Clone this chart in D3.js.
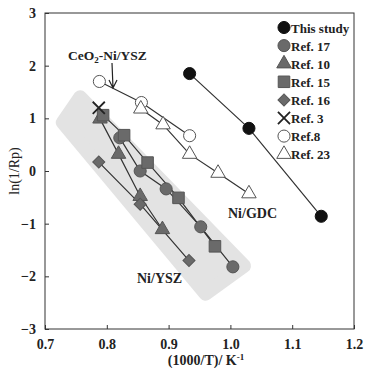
<!DOCTYPE html>
<html>
<head>
<meta charset="utf-8">
<script src="https://cdn.jsdelivr.net/npm/d3@7"></script>
<style>
  body { margin: 0; background: #fff; }
  text { font-family: "Liberation Serif", "DejaVu Serif", serif; }
</style>
</head>
<body>
<div id="wrapper"></div>
<script>
// data: [1000/T, ln(1/Rp)]
const thisStudy = [[0.934, 1.85], [1.030, 0.81], [1.147, -0.86]]
const ref17 = [[0.821, 0.63], [0.854, 0.00], [0.896, -0.34], [0.952, -1.06], [1.004, -1.82]]
const ref10 = [[0.789, 0.99], [0.819, 0.32], [0.854, -0.48], [0.890, -1.11]]
const ref15 = [[0.794, 1.06], [0.828, 0.68], [0.866, 0.16], [0.916, -0.51], [0.975, -1.43]]
const ref16 = [[0.787, 0.17], [0.854, -0.63], [0.933, -1.70]]
const ref3 = [[0.787, 1.20]]
const ref8 = [[0.788, 1.70], [0.856, 1.30], [0.934, 0.67]]
const ref23 = [[0.855, 1.18], [0.891, 0.88], [0.934, 0.32], [0.980, -0.04], [1.030, -0.43]]

// outline of the grey Ni/YSZ band
const bandOutline = [[0.757, 1.40], [0.729, 0.92], [0.960, -2.33], [1.022, -1.80]]

const xTicks = [0.7, 0.8, 0.9, 1.0, 1.1, 1.2]
const yTicks = [-3, -2, -1, 0, 1, 2, 3]

const series = [
  { name: "This study", data: thisStudy, symbol: "circle", fill: "#111", stroke: "#111" },
  { name: "Ref. 17", data: ref17, symbol: "circle", fill: "#6a6a6a", stroke: "#555" },
  { name: "Ref. 10", data: ref10, symbol: "triangle", fill: "#6a6a6a", stroke: "#555" },
  { name: "Ref. 15", data: ref15, symbol: "square", fill: "#6a6a6a", stroke: "#555" },
  { name: "Ref. 16", data: ref16, symbol: "diamond", fill: "#6a6a6a", stroke: "#555" },
  { name: "Ref. 3", data: ref3, symbol: "x", fill: "none", stroke: "#222" },
  { name: "Ref.8", data: ref8, symbol: "circle", fill: "#fff", stroke: "#555" },
  { name: "Ref. 23", data: ref23, symbol: "triangle", fill: "#fff", stroke: "#555" }
]

async function drawChart() {
  let dimensions = {
    width: 365,
    height: 368,
    margin: { top: 13, right: 11, bottom: 39, left: 45 }
  }
  dimensions.boundedWidth = dimensions.width - dimensions.margin.left - dimensions.margin.right
  dimensions.boundedHeight = dimensions.height - dimensions.margin.top - dimensions.margin.bottom

  const wrapper = d3.select("#wrapper")
    .append("svg")
      .attr("width", dimensions.width)
      .attr("height", dimensions.height)

  const bounds = wrapper.append("g")
    .attr("transform", `translate(${dimensions.margin.left},${dimensions.margin.top})`)

  const xScale = d3.scaleLinear()
    .domain([0.7, 1.2])
    .range([0, dimensions.boundedWidth])

  const yScale = d3.scaleLinear()
    .domain([-3, 3])
    .range([dimensions.boundedHeight, 0])

  // grey band
  bounds.append("path")
    .attr("d", d3.line().x(d => xScale(d[0])).y(d => yScale(d[1])).curve(d3.curveLinearClosed)(bandOutline))
    .attr("fill", "#e3e3e3")
    .attr("stroke", "#e3e3e3")
    .attr("stroke-width", 14)
    .attr("stroke-linejoin", "round")

  // frame
  bounds.append("rect")
    .attr("width", dimensions.boundedWidth)
    .attr("height", dimensions.boundedHeight)
    .attr("fill", "none")
    .attr("stroke", "#333")
    .attr("stroke-width", 1)

  // axes
  const xAxis = bounds.append("g")
    .attr("transform", `translate(0,${dimensions.boundedHeight})`)
    .call(d3.axisBottom(xScale).tickValues(xTicks).tickFormat(d3.format(".1f")).tickSizeInner(-4).tickSizeOuter(0).tickPadding(10))
  xAxis.select(".domain").remove()
  xAxis.selectAll("line").attr("stroke", "#333")
  xAxis.selectAll("text")
    .attr("font-size", 14)
    .attr("font-weight", "bold")
    .attr("fill", "#222")
    .attr("font-family", "Liberation Serif, serif")

  const yAxis = bounds.append("g")
    .call(d3.axisLeft(yScale).tickValues(yTicks).tickFormat(d3.format("d")).tickSizeInner(-4).tickSizeOuter(0).tickPadding(9))
  yAxis.select(".domain").remove()
  yAxis.selectAll("line").attr("stroke", "#333")
  yAxis.selectAll("text")
    .attr("font-size", 14)
    .attr("font-weight", "bold")
    .attr("fill", "#222")
    .attr("font-family", "Liberation Serif, serif")

  // axis labels
  const xLabel = wrapper.append("text")
    .attr("x", 206)
    .attr("y", 365)
    .attr("text-anchor", "middle")
    .attr("font-size", 14)
    .attr("font-weight", "bold")
    .attr("fill", "#222")
  xLabel.append("tspan").text("(1000/T)/ K")
  xLabel.append("tspan").attr("font-size", 9).attr("dy", -5).text("-1")

  wrapper.append("text")
    .attr("transform", `translate(19,171) rotate(-90)`)
    .attr("text-anchor", "middle")
    .attr("font-size", 14)
    .attr("fill", "#222")
    .text("ln(1/Rp)")

  // symbol drawing
  function drawSymbol(sel, s, size) {
    if (s.symbol === "x") {
      const h = size * 0.55
      sel.append("path")
        .attr("d", `M${-h},${-h}L${h},${h}M${-h},${h}L${h},${-h}`)
        .attr("stroke", s.stroke)
        .attr("stroke-width", 1.8)
        .attr("fill", "none")
      return
    }
    const type = {
      circle: d3.symbolCircle,
      triangle: d3.symbolTriangle,
      square: d3.symbolSquare,
      diamond: d3.symbolSquare
    }[s.symbol]
    const area = {
      circle: size * size * 0.95,
      triangle: size * size * 0.75,
      square: size * size * 1.1,
      diamond: size * size * 0.6
    }[s.symbol]
    sel.append("path")
      .attr("d", d3.symbol(type, area)())
      .attr("transform", s.symbol === "diamond" ? "rotate(45)" : null)
      .attr("fill", s.fill)
      .attr("stroke", s.stroke)
      .attr("stroke-width", 1)
  }

  const lineGenerator = d3.line()
    .x(d => xScale(d[0]))
    .y(d => yScale(d[1]))

  // lines first
  series.forEach(s => {
    if (s.data.length < 2) return
    bounds.append("path")
      .attr("d", lineGenerator(s.data))
      .attr("fill", "none")
      .attr("stroke", "#333")
      .attr("stroke-width", 1.2)
  })

  // markers
  series.forEach(s => {
    bounds.append("g").selectAll("g")
      .data(s.data)
      .join("g")
        .attr("transform", d => `translate(${xScale(d[0])},${yScale(d[1])})`)
        .each(function() { drawSymbol(d3.select(this), s, 11) })
  })

  // legend
  const legend = wrapper.append("g")
  series.forEach((s, i) => {
    const y = 27.5 + i * 18.1
    const g = legend.append("g").attr("transform", `translate(284,${y})`)
    drawSymbol(g, s, 11)
    g.append("text")
      .attr("x", 7)
      .attr("y", 5)
      .attr("font-size", 13)
      .attr("font-weight", "bold")
      .attr("fill", "#222")
      .text(s.name)
  })

  // annotations
  const ceo = wrapper.append("text")
    .attr("x", 68)
    .attr("y", 60)
    .attr("font-size", 13.5)
    .attr("font-weight", "bold")
    .attr("fill", "#222")
  ceo.append("tspan").text("CeO")
  ceo.append("tspan").attr("font-size", 9).attr("dy", 3).text("2")
  ceo.append("tspan").attr("dy", -3).text("-Ni/YSZ")

  wrapper.append("path")
    .attr("d", "M112,63L113,88M109,80L113,88L117,80")
    .attr("fill", "none")
    .attr("stroke", "#222")
    .attr("stroke-width", 1.2)

  wrapper.append("text")
    .attr("x", 228)
    .attr("y", 218)
    .attr("font-size", 14)
    .attr("font-weight", "bold")
    .attr("fill", "#222")
    .text("Ni/GDC")

  wrapper.append("text")
    .attr("x", 137)
    .attr("y", 283)
    .attr("font-size", 14)
    .attr("font-weight", "bold")
    .attr("fill", "#222")
    .text("Ni/YSZ")
}
drawChart()
</script>
</body>
</html>
